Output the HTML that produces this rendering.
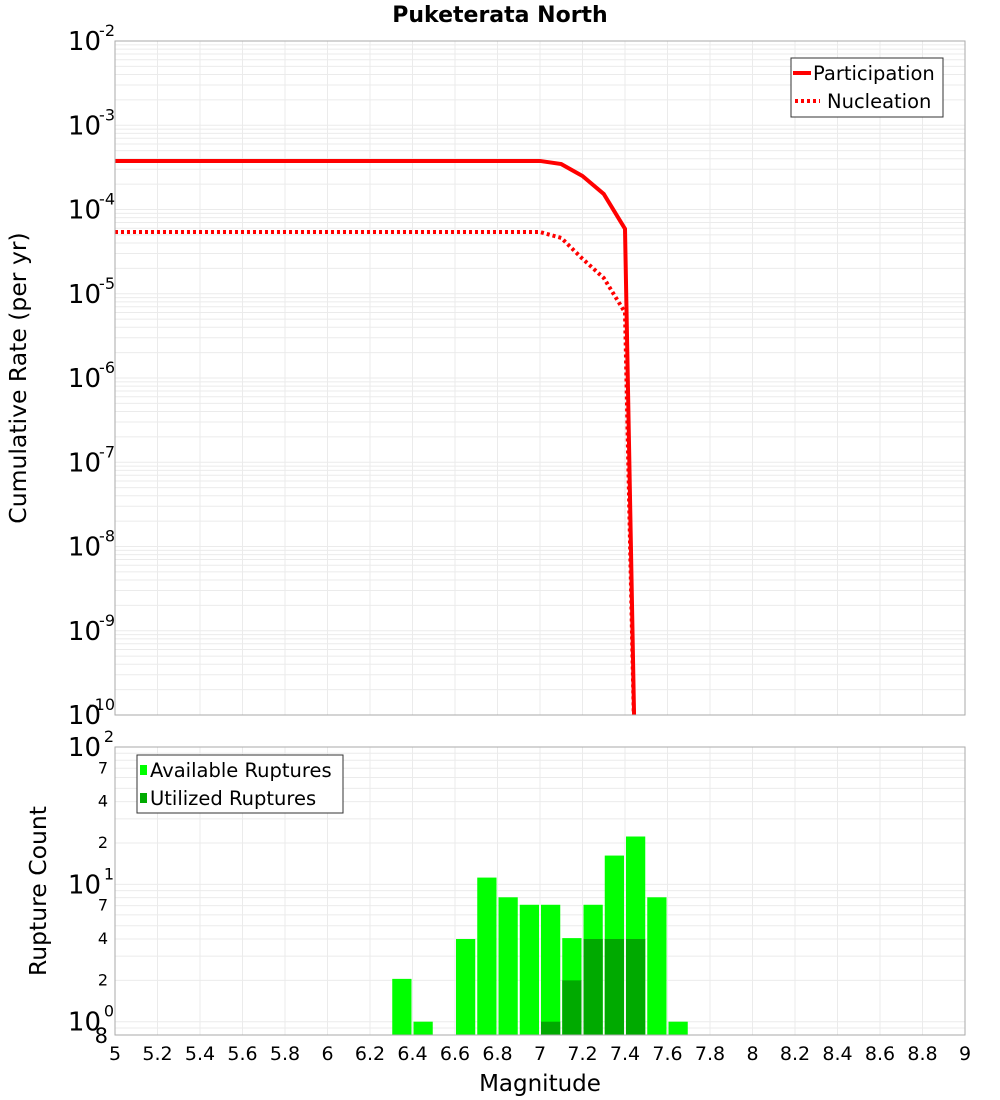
<!DOCTYPE html>
<html><head><meta charset="utf-8"><style>
body{margin:0;background:#fff}
svg{display:block;font-family:"DejaVu Sans","Liberation Sans",sans-serif}
</style></head><body>
<svg id="c" width="1000" height="1100" xmlns="http://www.w3.org/2000/svg"></svg>
<script>
const mags=[5.0,6.0,7.0,7.1,7.2,7.3,7.4,7.45];
const participation=[3.77e-4,3.77e-4,3.77e-4,3.46e-4,2.5e-4,1.53e-4,5.9e-5,1e-11];
const nucleation=[5.4e-5,5.4e-5,5.4e-5,4.6e-5,2.6e-5,1.54e-5,6e-6,1e-11];
const binStarts=[6.3,6.4,6.6,6.7,6.8,6.9,7.0,7.1,7.2,7.3,7.4,7.5,7.6];
const available=[2.05,1,4,11.2,8.05,7.1,7.1,4.06,7.1,16.2,22.3,8.05,1];
const utilized=[0,0,0,0,0,0,1,2,4,4,4,0,0];
const xTicks=["5","5.2","5.4","5.6","5.8","6","6.2","6.4","6.6","6.8","7","7.2","7.4","7.6","7.8","8","8.2","8.4","8.6","8.8","9"];
const topExps=[-2,-3,-4,-5,-6,-7,-8,-9,-10];

const NS="http://www.w3.org/2000/svg";
const svg=document.getElementById('c');
function mk(t,a,p){const e=document.createElementNS(NS,t);for(const k in a)e.setAttribute(k,a[k]);(p||svg).appendChild(e);return e;}
const L=115,R=965,T1=41,B1=715,T2=747,B2=1035;
const X=v=>L+(v-5)/4*(R-L);
const Y1=v=>T1+(-2-Math.log10(v))/8*(B1-T1);
const Y2=v=>T2+(2-Math.log10(v))/Math.log10(100/0.8)*(B2-T2);

let t=mk('text',{x:500,y:22,'text-anchor':'middle','font-size':22,'font-weight':'bold'});t.textContent='Puketerata North';


const g1=mk('g',{});
for(let e=-10;e<-2;e++)for(let m=1;m<10;m++){const y=Y1(m*Math.pow(10,e));mk('line',{x1:L,x2:R,y1:y,y2:y,stroke:'#ebebeb','stroke-width':1},g1);}
xTicks.forEach(s=>{const x=X(+s);mk('line',{x1:x,x2:x,y1:T1,y2:B1,stroke:'#ebebeb'},g1);mk('line',{x1:x,x2:x,y1:T2,y2:B2,stroke:'#ebebeb'},g1);});
const g2=mk('g',{});
for(let e=-1;e<2;e++)for(let m=1;m<10;m++){const v=m*Math.pow(10,e);if(v<0.8)continue;const y=Y2(v);mk('line',{x1:L,x2:R,y1:y,y2:y,stroke:'#ebebeb'},g2);}

const defs=mk('defs',{});const cp=mk('clipPath',{id:'cp1'},defs);mk('rect',{x:L,y:T1,width:R-L,height:B1-T1},cp);

function line(vals,dash,name){const p=mk('polyline',{points:mags.map((m,i)=>X(m)+','+Y1(vals[i])).join(' '),fill:'none',stroke:'#ff0000','stroke-width':4,'clip-path':'url(#cp1)'});if(dash)p.setAttribute('stroke-dasharray',dash);}
line(participation,null,'participation-line');
line(nucleation,'3,3','nucleation-line');

const gb=mk('g',{});
binStarts.forEach((b,i)=>{const x0=X(b)+1,x1=X(b+0.1)-1;
 const r=mk('rect',{x:x0,y:Y2(available[i]),width:x1-x0,height:B2-Y2(available[i]),fill:'#00ff00'},gb);
 
 if(utilized[i]>0){const u=mk('rect',{x:x0,y:Y2(utilized[i]),width:x1-x0,height:B2-Y2(utilized[i]),fill:'#00aa00'},gb);
 }
});

let f=mk('rect',{x:L,y:T1,width:R-L,height:B1-T1,fill:'none',stroke:'#aaa'});
f=mk('rect',{x:L,y:T2,width:R-L,height:B2-T2,fill:'none',stroke:'#aaa'});

topExps.forEach(e=>{const y=Y1(Math.pow(10,e));
 const a=mk('text',{x:101,y:y+9,'text-anchor':'end','font-size':26});a.textContent='10';
 const s=mk('text',{x:115,y:y-5,'text-anchor':'end','font-size':16});s.textContent=String(e);});
[[100,'2'],[10,'1'],[1,'0']].forEach(([v,e])=>{const y=Y2(v);
 const a=mk('text',{x:101,y:y+9,'text-anchor':'end','font-size':26});a.textContent='10';
 const s=mk('text',{x:114,y:y-5,'text-anchor':'end','font-size':16});s.textContent=e;});
[[70,'7'],[40,'4'],[20,'2'],[7,'7'],[4,'4'],[2,'2']].forEach(([v,s])=>{const a=mk('text',{x:108,y:Y2(v)+5,'text-anchor':'end','font-size':16});a.textContent=s;});
t=mk('text',{x:108,y:B2+8,'text-anchor':'end','font-size':21});t.textContent='8';

xTicks.forEach(s=>{const a=mk('text',{x:X(+s),y:1060,'text-anchor':'middle','font-size':19});a.textContent=s;});
t=mk('text',{x:540,y:1091,'text-anchor':'middle','font-size':23});t.textContent='Magnitude';
t=mk('text',{x:0,y:0,'text-anchor':'middle','font-size':23.5,transform:'translate(26,378) rotate(-90)'});t.textContent='Cumulative Rate (per yr)';
t=mk('text',{x:0,y:0,'text-anchor':'middle','font-size':23.5,transform:'translate(46,891) rotate(-90)'});t.textContent='Rupture Count';

let lg=mk('g',{});
mk('rect',{x:791,y:58,width:152,height:59,fill:'#fff',stroke:'#333'},lg);
mk('line',{x1:793,x2:811,y1:73,y2:73,stroke:'#f00','stroke-width':4},lg);
mk('line',{x1:795,x2:820,y1:101,y2:101,stroke:'#f00','stroke-width':4,'stroke-dasharray':'3,3'},lg);
t=mk('text',{x:813,y:80,'font-size':19.5},lg);t.textContent='Participation';
t=mk('text',{x:827,y:108,'font-size':19.5},lg);t.textContent='Nucleation';
lg=mk('g',{});
mk('rect',{x:137,y:755,width:206,height:58,fill:'#fff',stroke:'#333'},lg);
mk('rect',{x:140,y:765,width:7,height:10,fill:'#00ff00'},lg);
mk('rect',{x:140,y:793,width:7,height:10,fill:'#00aa00'},lg);
t=mk('text',{x:150,y:777,'font-size':19.5},lg);t.textContent='Available Ruptures';
t=mk('text',{x:150,y:805,'font-size':19.5},lg);t.textContent='Utilized Ruptures';
</script>
</body></html>
